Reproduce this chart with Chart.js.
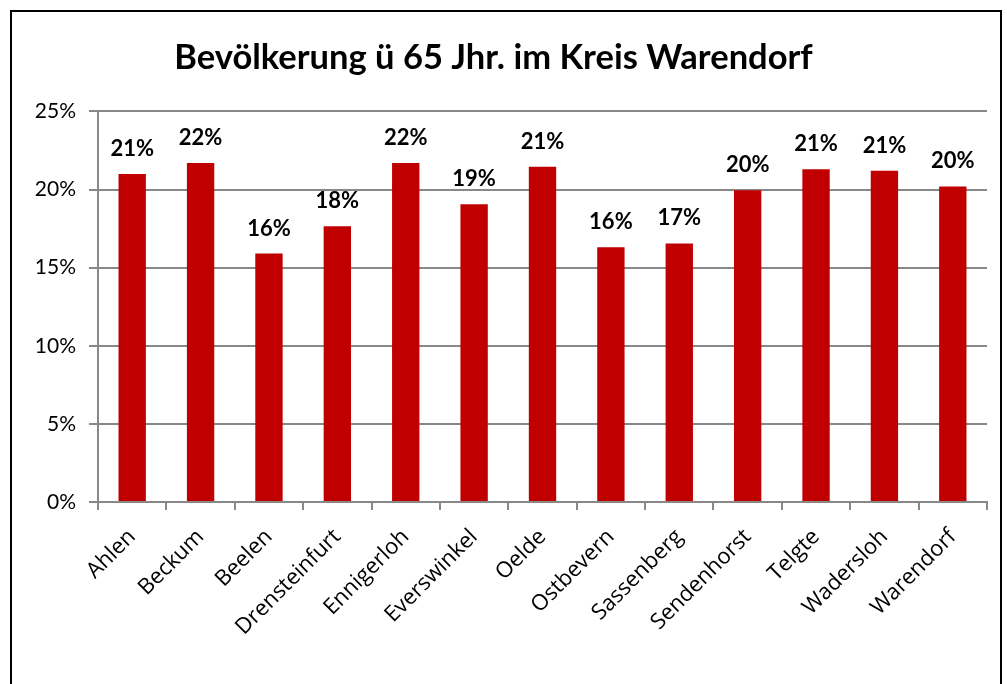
<!DOCTYPE html>
<html>
<head>
<meta charset="utf-8">
<title>Bevölkerung ü 65 Jhr. im Kreis Warendorf</title>
<script src="https://cdn.jsdelivr.net/npm/chart.js"></script>
<style>
    body {
        margin: 0;
        background: #fff;
    }
    .wrap {
        position: relative;
        width: 1007px;
        height: 684px;
        overflow: hidden;
    }
    .frame {
        position: absolute;
        left: 10px;
        top: 10px;
        width: 988px;
        height: 720px;
        border: 2px solid #000;
        pointer-events: none;
    }
</style>
</head>
<body>
<div class="wrap">
    <canvas id="chart" width="1007" height="684"></canvas>
    <div class="frame"></div>
</div>

<script>
    // Data (percent)
    const towns = ['Ahlen', 'Beckum', 'Beelen', 'Drensteinfurt', 'Ennigerloh', 'Everswinkel', 'Oelde',
                   'Ostbevern', 'Sassenberg', 'Sendenhorst', 'Telgte', 'Wadersloh', 'Warendorf'];
    const over65 = [21.0, 21.7, 15.9, 17.65, 21.7, 19.05, 21.45, 16.3, 16.55, 19.95, 21.3, 21.2, 20.2];
    const yTicks = [0, 5, 10, 15, 20, 25];

    const gridGrey = '#888888';

    // draws the rounded value above each bar
    const valueLabels = {
        id: 'valueLabels',
        afterDatasetsDraw(chart) {
            const ctx = chart.ctx;
            const meta = chart.getDatasetMeta(0);
            ctx.save();
            ctx.font = 'bold 22px Lato';
            ctx.fillStyle = '#000';
            ctx.textAlign = 'center';
            ctx.textBaseline = 'alphabetic';
            meta.data.forEach((bar, i) => {
                const v = chart.data.datasets[0].data[i];
                ctx.fillText(Math.round(v) + '%', bar.x, bar.y - 18);
            });
            ctx.restore();
        }
    };

    new Chart(document.getElementById('chart'), {
        type: 'bar',
        data: {
            labels: towns,
            datasets: [{
                data: over65,
                backgroundColor: '#C00000',
                borderWidth: 0,
                categoryPercentage: 1.0,
                barPercentage: 0.4
            }]
        },
        options: {
            responsive: false,
            animation: false,
            layout: {
                padding: { left: 0, right: 20, top: 0, bottom: 0 }
            },
            plugins: {
                legend: { display: false },
                tooltip: { enabled: false },
                title: {
                    display: true,
                    text: 'Bevölkerung ü 65 Jhr. im Kreis Warendorf',
                    color: '#000',
                    font: { family: 'Lato', size: 34.5, weight: 'bold', lineHeight: 1.2 },
                    padding: { top: 37, bottom: 33 }
                }
            },
            scales: {
                x: {
                    afterFit(scale) { scale.height = 182; },
                    grid: {
                        offset: true,
                        drawOnChartArea: false,
                        drawTicks: true,
                        tickLength: 8,
                        color: gridGrey,
                        lineWidth: 2
                    },
                    border: { display: true, color: gridGrey, width: 2 },
                    ticks: {
                        minRotation: 45,
                        maxRotation: 45,
                        padding: 14,
                        color: '#000',
                        font: { family: "'Open Sans', sans-serif", size: 22 }
                    }
                },
                y: {
                    min: 0,
                    max: 25,
                    afterFit(scale) { scale.width = 98; },
                    afterBuildTicks(scale) {
                        scale.ticks = yTicks.map(v => ({ value: v }));
                    },
                    grid: {
                        color: gridGrey,
                        lineWidth: 2,
                        tickLength: 9
                    },
                    border: { display: true, color: gridGrey, width: 2 },
                    ticks: {
                        padding: 13,
                        color: '#000',
                        font: { family: 'Lato', size: 21 },
                        callback: v => v + '%'
                    }
                }
            }
        },
        plugins: [valueLabels]
    });
</script>
</body>
</html>
